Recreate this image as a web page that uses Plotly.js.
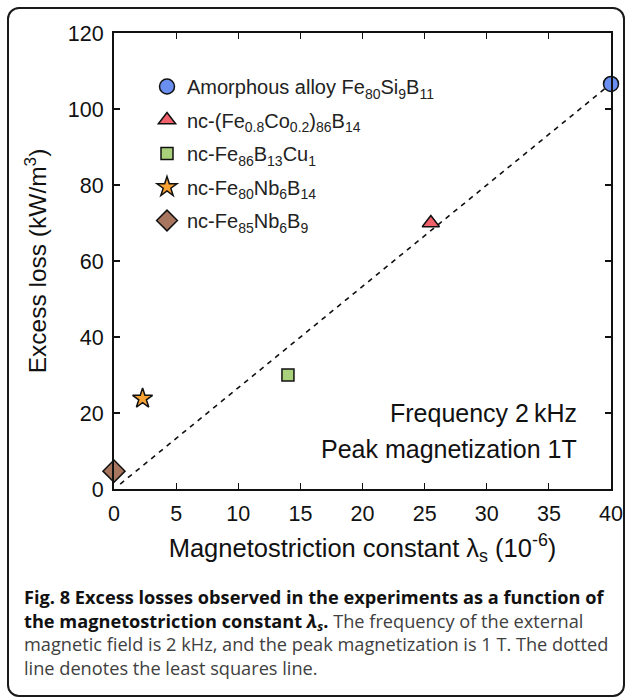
<!DOCTYPE html>
<html>
<head>
<meta charset="utf-8">
<script src="https://cdn.plot.ly/plotly-3.0.1.min.js"></script>
<style>
  html, body { margin: 0; padding: 0; background: #fff; }
  #wrap { position: relative; width: 627px; height: 697px; overflow: hidden; }
  #frame { position: absolute; left: 7px; top: 7px; width: 618px; height: 690px;
           border: 2px solid #1a1a1a; border-radius: 12px; box-sizing: border-box; pointer-events: none; }
  #chart { position: absolute; left: 0; top: 0; width: 627px; height: 697px; }
</style>
</head>
<body>
<div id="wrap">
  <div id="chart"></div>
  <div id="frame"></div>
</div>
<script>
// ---- data ----
const seriesNames = [
  'Amorphous alloy Fe<sub>80</sub>Si<sub>9</sub>B<sub>11</sub>',
  'nc-(Fe<sub>0.8</sub>Co<sub>0.2</sub>)<sub>86</sub>B<sub>14</sub>',
  'nc-Fe<sub>86</sub>B<sub>13</sub>Cu<sub>1</sub>',
  'nc-Fe<sub>80</sub>Nb<sub>6</sub>B<sub>14</sub>',
  'nc-Fe<sub>85</sub>Nb<sub>6</sub>B<sub>9</sub>'
];
const lambdaS = [40, 25.5, 14.0, 2.3, 0];          // magnetostriction constant (1e-6)
const excessLoss = [106.6, 70.0, 30.0, 23.8, 4.7]; // kW/m^3
const symbols = ['circle', 'triangle-up', 'square', 'star', 'diamond'];
const colors = ['#6b8ff0', '#f0606b', '#a9d07a', '#f7a233', '#a8765f'];
const markerSizes = [15, 15, 12, 15, 17];
// least squares line endpoints (as drawn)
const fitX = [0.5, 39.6];
const fitY = [1.3, 105.6];
const xTicks = [0, 5, 10, 15, 20, 25, 30, 35, 40];
const yTicks = [0, 20, 40, 60, 80, 100, 120];

// ---- layout geometry ----
const W = 627, H = 697;
const L = 114, R = 611, T = 33, B = 489;
const px2x = p => (p - L) / (R - L);
const px2y = p => (B - p) / (B - T);
const SANS = 'Liberation Sans';

const traces = [];
traces.push({
  x: fitX, y: fitY, mode: 'lines', showlegend: false, hoverinfo: 'skip',
  line: { color: '#111', width: 1.6, dash: '5px,5px' }
});
for (let i = 0; i < seriesNames.length; i++) {
  traces.push({
    x: [lambdaS[i]], y: [excessLoss[i]], mode: 'markers', name: seriesNames[i],
    legendgroup: 'g' + i, cliponaxis: false,
    marker: { symbol: symbols[i], color: colors[i], size: markerSizes[i],
              line: { color: '#111', width: 1.5 } }
  });
}

const capGray = '#404040';
const caption =
  '<b>Fig. 8 Excess losses observed in the experiments as a function of</b><br>' +
  '<b>the magnetostriction constant <i>λ<sub>s</sub></i>.</b><span style="color:' + capGray + '"> The frequency of the external</span><br>' +
  '<span style="color:' + capGray + '">magnetic field is 2 kHz, and the peak magnetization is 1 T. The dotted</span><br>' +
  '<span style="color:' + capGray + '">line denotes the least squares line.</span>';

const annotations = [
  { text: 'Frequency 2\u2009kHz', x: px2x(579), y: px2y(413), xanchor: 'right', yanchor: 'middle' },
  { text: 'Peak magnetization 1T', x: px2x(579), y: px2y(449), xanchor: 'right', yanchor: 'middle' }
].map(a => Object.assign({ xref: 'paper', yref: 'paper', showarrow: false,
  font: { family: SANS, size: 25, color: '#111' } }, a));

annotations.push({
  text: caption, xref: 'paper', yref: 'paper', x: px2x(22), y: px2y(632),
  xanchor: 'left', yanchor: 'middle', showarrow: false, align: 'left',
  font: { family: 'Open Sans', size: 18.2, color: '#111' }
});

const axisCommon = {
  showgrid: false, zeroline: false, showline: true, linecolor: '#111', linewidth: 2,
  mirror: 'ticks', ticks: 'inside', ticklen: 6, tickwidth: 1.2, tickcolor: '#111',
  tickfont: { family: SANS, size: 21.5, color: '#111' }, ticklabelstandoff: 4
};

const layout = {
  width: W, height: H,
  margin: { l: L, r: W - R, t: T, b: H - B },
  paper_bgcolor: 'rgba(0,0,0,0)', plot_bgcolor: 'rgba(0,0,0,0)',
  xaxis: Object.assign({}, axisCommon, {
    range: [0, 40], tickvals: xTicks, ticktext: xTicks.map(String),
    title: { text: 'Magnetostriction constant λ<sub>s</sub> (10<sup>-6</sup>)', standoff: 14,
             font: { family: SANS, size: 25.5, color: '#111' } }
  }),
  yaxis: Object.assign({}, axisCommon, {
    range: [0, 120], tickvals: yTicks, ticktext: yTicks.map(String),
    title: { text: 'Excess loss (kW/m<sup>3</sup>)', standoff: 14,
             font: { family: SANS, size: 24.5, color: '#111' } }
  }),
  showlegend: true,
  legend: {
    x: px2x(147), y: px2y(67), xanchor: 'left', yanchor: 'top',
    bgcolor: 'rgba(0,0,0,0)', borderwidth: 0, tracegroupgap: 4.5,
    font: { family: SANS, size: 20, color: '#222' },
    itemwidth: 30
  },
  annotations: annotations
};

Plotly.newPlot('chart', traces, layout, { displayModeBar: false, staticPlot: true });
</script>
</body>
</html>
